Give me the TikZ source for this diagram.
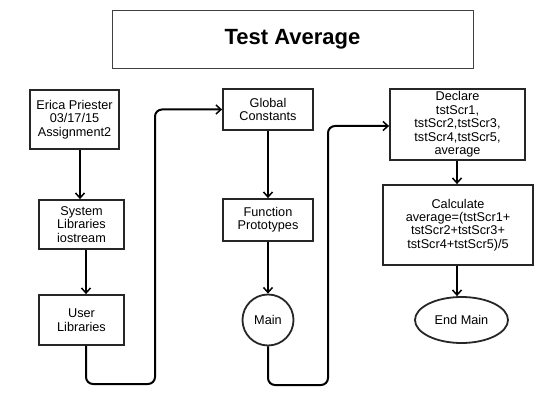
\documentclass[tikz,border=0pt]{standalone}
\usepackage{fontspec}
\setmainfont{Liberation Sans}
\usetikzlibrary{arrows.meta,shapes.geometric}
\begin{document}
\begin{tikzpicture}[x=1pt,y=-1pt,
  txt/.style={align=center,inner sep=0pt,font=\fontsize{12.7}{13.4}\selectfont},
  box/.style={txt,draw=black!85,line width=1.8pt},
  arr/.style={line width=2pt,-{Straight Barb[length=5pt,width=9pt,line width=1.5pt]}},
  conn/.style={arr,rounded corners=7pt}]
\useasboundingbox (0,0) rectangle (557,409);
\node[draw=black!75,line width=0.8pt,minimum width=361pt,minimum height=58pt,
      font=\fontsize{22}{24}\selectfont\bfseries] (title) at (292.5,39) {Test Average};
% column 1
\node[box,minimum width=89pt,minimum height=59pt] (b1) at (74.5,119.5) {Erica Priester\\03/17/15\\Assignment2};
\node[box,minimum width=85pt,minimum height=49pt] (b2) at (81.5,224.5) {System\\Libraries\\iostream};
\node[box,minimum width=85pt,minimum height=50pt] (b3) at (81.5,320) {User\\Libraries};
% column 2
\node[box,minimum width=90pt,minimum height=41pt] (gc) at (268,109.5) {Global\\Constants};
\node[box,minimum width=90pt,minimum height=42pt] (fp) at (268,220) {Function\\Prototypes};
\node[box,circle,minimum size=51pt] (mn) at (268,320) {Main};
% column 3
\node[box,minimum width=135pt,minimum height=71pt] (dc) at (457.5,124.5) {Declare\\tstScr1,\\tstScr2,tstScr3,\\tstScr4,tstScr5,\\average};
\node[box,minimum width=150pt,minimum height=80pt] (ca) at (458,225) {Calculate\\average=(tstScr1+\\tstScr2+tstScr3+\\tstScr4+tstScr5)/5};
\node[box,ellipse,minimum width=93pt,minimum height=46pt] (em) at (461.5,320) {End Main};
% connectors
\draw[arr] ([xshift=5.5pt]b1.south) -- ([xshift=-1.5pt]b2.north);
\draw[arr] ([xshift=4.5pt]b2.south) -- ([xshift=4.5pt]b3.north);
\coordinate (c1) at (155,384);
\draw[conn] ([xshift=4.5pt]b3.south) |- (c1) |- (gc.west);
\draw[arr] (gc) -- (fp);
\draw[arr] (fp) -- (mn);
\coordinate (c2) at (328,385);
\coordinate (d1) at (dc.west |- 0,126);
\draw[conn] (mn.south) |- (c2) |- (d1);
\draw[arr] ([xshift=-0.5pt]dc.south) -- ([xshift=-1pt]ca.north);
\draw[arr] ([xshift=-1pt]ca.south) -- ([xshift=-4.5pt]em.north);
\end{tikzpicture}
\end{document}
